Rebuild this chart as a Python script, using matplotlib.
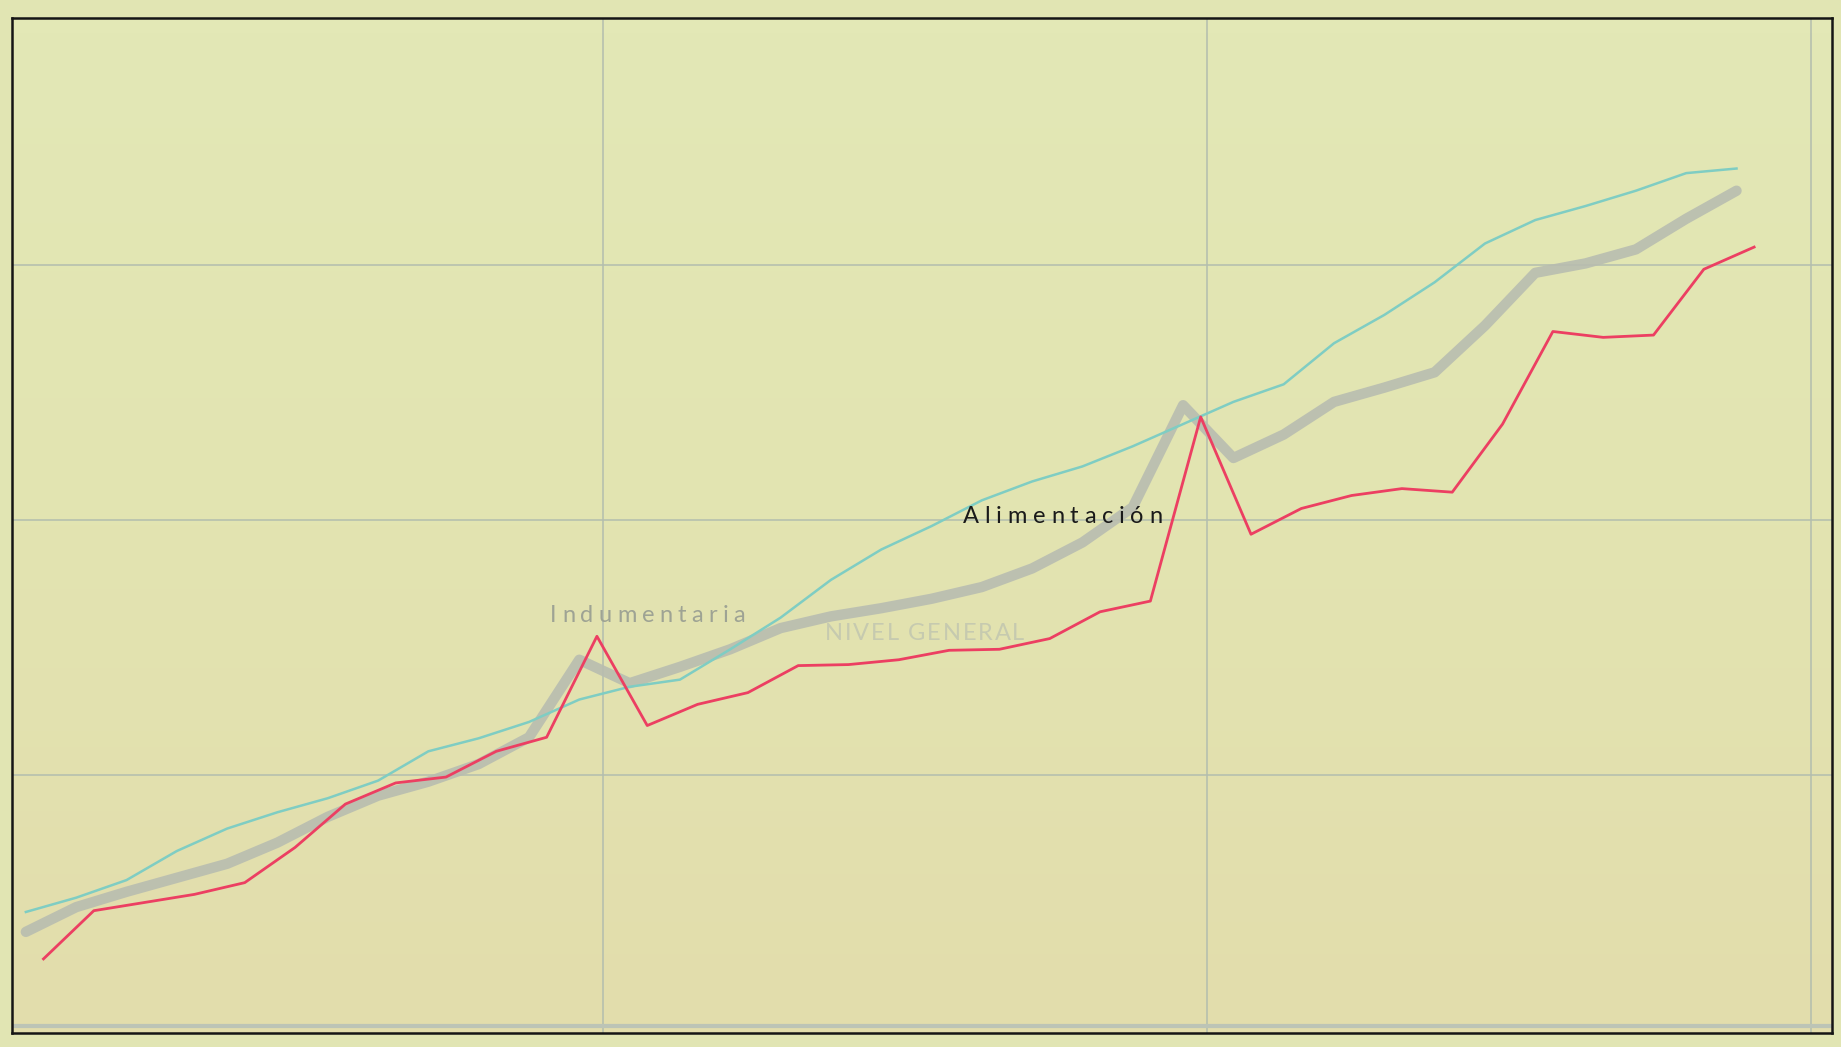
import numpy as np
import matplotlib
matplotlib.use("Agg")
import matplotlib.pyplot as plt
from matplotlib.colors import LinearSegmentedColormap
from matplotlib.transforms import offset_copy

# monthly points, 35 months (3 years of grid)
months = np.arange(1, 36)

# values (arbitrary index units, grid every 100)
alimentacion = [28.0, 46.9, 50.1, 53.3, 57.9, 71.7, 88.7, 97.0, 99.3, 109.4,
                114.9, 154.5, 119.5, 127.8, 132.4, 143.0, 143.4, 145.3, 149.0, 149.4,
                153.6, 164.1, 168.3, 240.5, 194.5, 204.6, 209.7, 212.4, 211.0, 237.7,
                274.0, 271.7, 272.6, 298.4, 307.1]
nivel_general = [38.6, 48.3, 54.3, 59.8, 65.3, 73.6, 83.7, 92.0, 97.5, 104.4,
                 114.9, 145.3, 136.1, 142.5, 149.4, 157.7, 162.3, 165.5, 169.2, 173.8,
                 181.1, 191.3, 205.1, 245.1, 224.4, 233.6, 246.4, 252.0, 258.0, 276.3,
                 297.0, 300.7, 306.2, 318.2, 329.2]
indumentaria = [46.4, 52.0, 58.9, 70.3, 79.1, 85.5, 91.0, 97.9, 109.4, 114.5,
                120.9, 129.7, 134.7, 137.5, 149.4, 161.8, 176.6, 188.5, 197.7, 207.8,
                215.2, 221.1, 229.0, 237.7, 246.4, 253.3, 269.4, 280.5, 293.3, 308.5,
                317.7, 323.2, 329.2, 336.1, 337.9]

paper = '#e1e5b3'
grid_col = '#b3bdae'

fig = plt.figure(figsize=(18.41, 10.47), dpi=100, facecolor=paper)
ax = fig.add_axes([0.0064, 0.0135, 0.9885, 0.9695])
ax.set_facecolor(paper)

# slight tint change of the old paper, bottom (first row) to top
paper_cm = LinearSegmentedColormap.from_list('paper', ['#e2ddac', '#e2e4b1', '#e3e8b6'])
ax.imshow(np.linspace(0, 1, 64).reshape(-1, 1), cmap=paper_cm, aspect='auto',
          origin='lower', extent=(0, 1, 0, 1), transform=ax.transAxes, zorder=0)

# paper grid: year boundaries and every 100 units
for gx in [12.13, 24.13, 36.13]:
    ax.axvline(gx, color=grid_col, lw=1.1, zorder=1)
for gy in [100, 200, 300]:
    ax.axhline(gy, color=grid_col, lw=1.1, zorder=1)
ax.axhline(1.5, color='#bcc4b6', lw=3, zorder=1)

shift = 0.35  # the pasted lines sit a little left of the red one
ax.plot(months - shift, nivel_general, color='#b8bdb0', lw=7.5, alpha=0.9,
        solid_capstyle='round', solid_joinstyle='round', zorder=2)
ax.plot(months - shift, indumentaria, color='#7fcdc3', lw=1.8, zorder=3)
ax.plot(months, alimentacion, color='#ec3f62', lw=2.0, zorder=4)

ax.set_xlim(0.37, 36.54)
ax.set_ylim(-1, 397)
ax.set_xticks([])
ax.set_yticks([])
for s in ax.spines.values():
    s.set_color('#151515')
    s.set_linewidth(1.8)


def spaced(ax, x, y, s, width_px, **kw):
    # draw text letter by letter so it can be tracked out like the original
    r = fig.canvas.get_renderer()
    arts, widths = [], []
    for ch in s:
        t = ax.text(x, y, ch, ha='left', va='baseline', **kw)
        arts.append(t)
        widths.append(t.get_window_extent(renderer=r).width)
    track = (width_px - sum(widths)) / (len(s) - 1)
    dx = 0
    for t, w in zip(arts, widths):
        t.set_transform(offset_copy(ax.transData, fig=fig, x=dx, y=0, units='dots'))
        dx += w + track


spaced(ax, 19.27, 199.0, 'Alimentación', 200, fontsize=17, color='#1a1a1a',
       family='Lato', zorder=5)
spaced(ax, 11.07, 160.2, 'Indumentaria', 195, fontsize=17, color='#9ea394',
       family='Lato', zorder=5)
spaced(ax, 16.54, 153.1, 'NIVEL GENERAL', 199, fontsize=17, color='#c6caaf',
       family='Lato', zorder=1.5)

fig.savefig('out.png', dpi=100, facecolor=paper)
